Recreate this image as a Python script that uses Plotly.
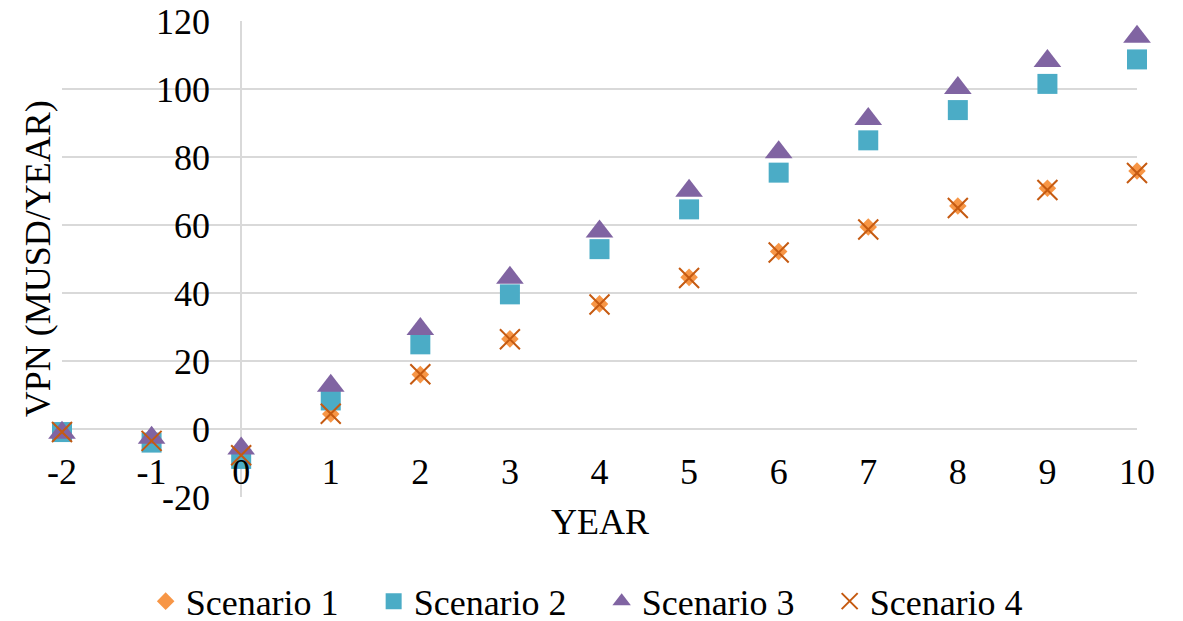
import plotly.graph_objects as go

years = [-2, -1, 0, 1, 2, 3, 4, 5, 6, 7, 8, 9, 10]
year_labels = ["-2", "-1", "0", "1", "2", "3", "4", "5", "6", "7", "8", "9", "10"]
scenario1 = [-1.0, -3.5, -8.0, 4.4, 16.0, 26.5, 36.8, 44.6, 52.2, 59.4, 65.6, 70.8, 75.9]
scenario2 = [-0.9, -4.0, -8.8, 8.4, 24.9, 39.6, 52.9, 64.6, 75.4, 84.9, 93.8, 101.5, 108.7]
scenario3 = [-1.1, -2.6, -5.7, 12.7, 29.4, 44.5, 58.1, 70.1, 81.4, 91.2, 100.3, 108.2, 115.4]
scenario4 = [-0.9, -3.5, -7.7, 4.5, 16.1, 26.4, 36.6, 44.4, 51.9, 58.7, 65.0, 70.3, 75.3]
names = ["Scenario 1", "Scenario 2", "Scenario 3", "Scenario 4"]
y_ticks = [-20, 0, 20, 40, 60, 80, 100, 120]
y_labels = ["-20", "0", "20", "40", "60", "80", "100", "120"]

FONT = "Liberation Serif"

fig = go.Figure()
fig.add_trace(go.Scatter(x=years, y=scenario1, mode="markers", name=names[0],
                         marker=dict(symbol="diamond", size=13.5, color="#F79646"),
                         cliponaxis=False))
fig.add_trace(go.Scatter(x=years, y=scenario2, mode="markers", name=names[1],
                         marker=dict(symbol="square", size=20, color="#4BACC6"),
                         cliponaxis=False))
fig.add_trace(go.Scatter(x=years, y=scenario3, mode="markers", name=names[2],
                         marker=dict(symbol="triangle-up", size=24, color="#8064A2"),
                         cliponaxis=False))
fig.add_trace(go.Scatter(x=years, y=scenario4, mode="markers", name=names[3],
                         marker=dict(symbol="x-thin", size=20,
                                     line=dict(color="#C55A11", width=2)),
                         cliponaxis=False))

fig.update_layout(
    width=1183, height=621,
    margin=dict(l=62, r=46, t=21, b=124, autoexpand=False),
    paper_bgcolor="white", plot_bgcolor="white",
    font=dict(family=FONT, size=36, color="black"),
    showlegend=True,
    legend=dict(orientation="h", x=0.502, xanchor="center", y=-0.219, yanchor="middle",
                font=dict(family=FONT, size=36), entrywidth=183, itemsizing="trace"),
    xaxis=dict(range=[-2, 10], tickvals=years, ticktext=year_labels, showgrid=False,
               zeroline=True, zerolinecolor="#D9D9D9", zerolinewidth=1.5,
               showline=False, anchor="free", position=20/140,
               ticks="outside", ticklen=11, tickcolor="rgba(0,0,0,0)",
               tickfont=dict(family=FONT, size=36)),
    yaxis=dict(range=[-20, 120], tickvals=y_ticks, ticktext=y_labels, showgrid=True,
               gridcolor="#D9D9D9", gridwidth=1.5, zeroline=False,
               anchor="free", position=2/12,
               ticks="outside", ticklen=24, tickcolor="rgba(0,0,0,0)",
               tickfont=dict(family=FONT, size=36)),
    annotations=[
        dict(text="YEAR", xref="paper", yref="paper", x=0.5, y=-0.0525,
             xanchor="center", yanchor="middle", showarrow=False,
             font=dict(family=FONT, size=36)),
        dict(text="VPN (MUSD/YEAR)", xref="paper", yref="paper", x=-0.022, y=0.5,
             xanchor="center", yanchor="middle", textangle=-90, showarrow=False,
             font=dict(family=FONT, size=36)),
    ],
)

fig.write_html("out.html", config={"displayModeBar": False},
               post_script="document.body.style.margin='0';")
